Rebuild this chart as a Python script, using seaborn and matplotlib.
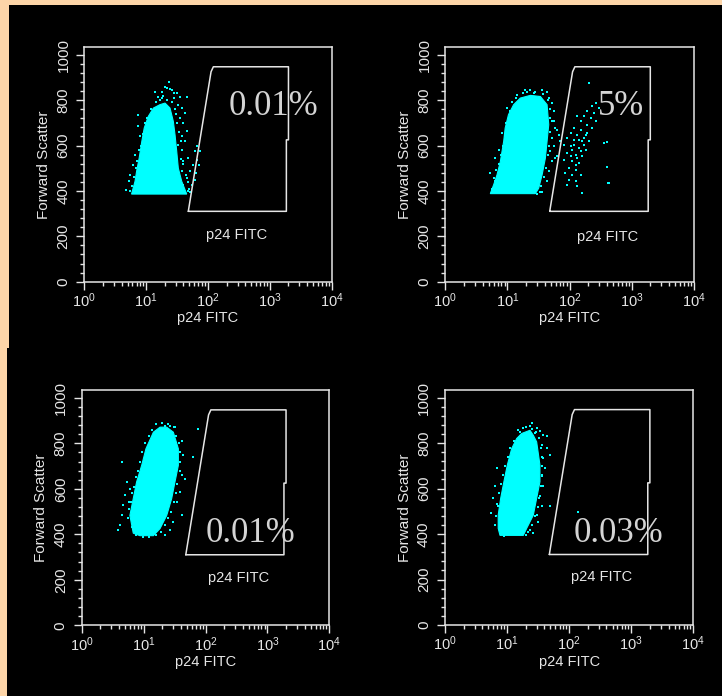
import matplotlib
matplotlib.use("Agg")
import matplotlib.pyplot as plt
import matplotlib.ticker as mticker
from matplotlib.patches import Rectangle
import seaborn as sns
import pandas as pd

# gate drawn in every panel (p24 FITC, forward scatter)
gate_x = [48, 112, 122, 2000, 2000, 1850, 1850, 48]
gate_y = [310, 925, 947, 947, 625, 625, 310, 310]

pct_labels = ["0.01%", "5%", "0.01%", "0.03%"]

# dense part of each cloud (outline)
tl_core_x = [5.8, 6.6, 7.0, 7.7, 8.5, 9.3, 10.8, 13.1, 16.7, 20.2, 24.3, 27.5, 29.3, 31.2, 33.1, 37.6, 45.3]
tl_core_y = [386, 442, 486, 544, 618, 677, 728, 765, 780, 787, 765, 706, 647, 574, 500, 442, 386]
tr_core_x = [5.3, 6.0, 6.8, 7.7, 8.7, 9.2, 10.4, 12.6, 16.1, 23.4, 34.0, 43.5, 46.3, 43.5, 40.9, 36.2, 31.9, 28.2]
tr_core_y = [388, 427, 471, 530, 618, 677, 736, 780, 809, 821, 816, 780, 692, 618, 545, 471, 412, 388]
bl_core_x = [6.8, 6.0, 6.8, 7.7, 9.3, 10.9, 14.4, 18.4, 23.6, 30.2, 36.4, 36.4, 32.1, 28.4, 23.6, 18.4, 14.4, 8.7]
bl_core_y = [405, 483, 557, 630, 703, 776, 849, 871, 871, 849, 776, 703, 630, 557, 483, 425, 394, 394]
br_core_x = [7.2, 7.2, 7.9, 8.9, 10.1, 11.9, 14.3, 17.2, 23.4, 26.5, 30.0, 33.9, 33.9, 30.0, 26.5, 20.7, 18.3, 7.7]
br_core_y = [425, 483, 557, 630, 703, 776, 820, 842, 856, 834, 805, 703, 630, 557, 483, 425, 394, 394]

# sparse events around the clouds
tl_dots_x = [23.4, 21.4, 17.8, 13.9, 15.7, 25.8, 31.1, 28.5, 35.2, 45.2, 33.1, 37.5, 42.5, 35.2, 39.9,
             45.2, 37.5, 42.5, 33.1, 65.5, 61.5, 75.0, 48.1, 66.0, 39.9, 57.9, 72.0, 37.5, 51.2, 64.0,
             45.2, 61.5, 39.9, 54.5, 33.1, 42.5, 7.5, 7.9, 6.6, 6.2, 5.5, 5.2, 4.8, 7.5,
             5.4, 6.0, 6.3, 6.9, 7.2, 7.8, 8.2, 8.8, 9.5, 10.5, 12.0, 14.5, 17.0, 19.0, 22.0,
             26.0, 29.0, 30.0, 32.0, 34.0, 36.0, 38.0, 36.0, 40.0, 44.0, 48.0, 50.0, 52.0, 47.0,
             28.0, 20.0, 24.0, 18.0]
tl_dots_y = [880, 853, 838, 838, 816, 846, 831, 809, 816, 816, 780, 765, 743, 721, 699,
             662, 640, 618, 603, 596, 574, 574, 544, 537, 530, 515, 515, 486, 486, 478,
             456, 449, 427, 427, 405, 390, 684, 640, 559, 515, 471, 442, 405, 736,
             400, 420, 460, 500, 530, 580, 600, 650, 700, 720, 760, 790, 800, 820, 800,
             790, 760, 740, 700, 660, 620, 580, 540, 520, 470, 440, 410, 395, 400,
             830, 860, 850, 810]
tr_dots_x = [19.5, 23.4, 26.5, 36.1, 43.5, 31.9, 46.3, 52.5, 55.8, 52.5, 59.4, 52.5, 55.8, 63.2, 52.5,
             46.3, 43.5, 36.1, 6.4, 5.3, 6.0, 7.2, 8.1, 9.8, 14.3,
             206, 263, 232, 298, 193, 247, 171, 218, 133, 151, 263, 193, 117, 151, 232,
             104, 133, 182, 92, 117, 160, 206, 81, 104, 142, 182, 92, 125, 160, 81,
             110, 142, 97.5, 125, 86, 110, 151, 97.5, 125, 92, 133, 160, 359, 433,
             56, 63, 71, 67, 49, 59, 396, 423, 396,
             117, 151, 133, 171, 125, 104, 193, 142, 110, 171,
             5.6, 6.2, 6.6, 7.2, 7.9, 8.4, 9.0, 9.6, 11.0, 12.0, 14.0, 18.0, 21.0, 28.0, 38.0,
             45.0, 48.0, 49.0, 48.0, 46.0, 45.0, 42.0, 39.0, 35.0, 33.0, 30.0]
tr_dots_y = [846, 846, 831, 846, 838, 816, 809, 787, 750, 706, 677, 633, 596, 552, 530,
             486, 442, 397, 545, 478, 456, 581, 655, 765, 824,
             875, 787, 772, 765, 750, 743, 728, 721, 728, 706, 706, 692, 677, 669, 677,
             655, 647, 647, 633, 625, 618, 618, 603, 596, 589, 581, 567, 559, 552, 537,
             530, 522, 500, 493, 478, 471, 471, 449, 442, 427, 420, 390, 611, 434,
             706, 669, 618, 647, 574, 545, 616, 435, 506,
             603, 574, 545, 633, 515, 552, 655, 625, 581, 603,
             410, 445, 490, 520, 560, 600, 640, 700, 750, 790, 810, 830, 835, 835, 825,
             800, 760, 720, 660, 600, 560, 500, 460, 420, 395, 385]
bl_dots_x = [4.4, 5.3, 5.0, 4.7, 4.4, 4.2, 3.9, 6.0, 5.7, 7.3, 41.2, 43.9, 41.2, 46.6, 38.7,
             34.2, 41.2, 30.2, 26.7, 22.2, 9.9, 76.6, 63.5, 26.7, 32.1, 22.2,
             5.5, 5.8, 6.2, 6.5, 7.0, 7.4, 8.0, 8.6, 9.5, 10.5, 12.0, 13.5, 16.0, 20.0, 25.0,
             31.0, 33.0, 37.0, 38.0, 39.0, 38.0, 35.0, 33.0, 31.0, 28.0, 25.0, 22.0, 19.0, 16.0,
             12.0, 7.5, 6.4]
bl_dots_y = [717, 630, 571, 527, 483, 440, 418, 600, 542, 440, 812, 747, 659, 644, 586,
             542, 483, 454, 418, 396, 388, 864, 739, 878, 871, 878,
             470, 510, 540, 580, 610, 650, 680, 720, 760, 800, 830, 860, 885, 890, 885,
             870, 830, 800, 760, 720, 680, 620, 580, 540, 500, 470, 440, 410, 395,
             388, 395, 430]
br_dots_x = [24.9, 23.4, 30.0, 33.9, 38.4, 43.5, 28.2, 15.2, 18.3, 36.1, 43.5, 49.1, 38.4, 40.8,
             36.1, 38.4, 33.9, 36.1, 30.0, 31.9, 23.4, 26.5, 6.8, 6.4, 6.0, 5.6, 7.2, 49.1, 140,
             6.3, 6.6, 7.0, 7.4, 8.1, 8.6, 9.4, 10.5, 11.2, 12.8, 16.0, 20.0, 25.0, 29.0, 33.0,
             35.0, 36.0, 37.0, 36.0, 35.0, 33.0, 31.0, 28.0, 25.0, 22.0, 20.0, 9.0]
br_dots_y = [888, 874, 866, 852, 837, 829, 844, 859, 866, 793, 778, 749, 734, 690,
             653, 609, 565, 521, 484, 455, 418, 403, 690, 609, 558, 491, 521, 521, 496,
             440, 480, 530, 580, 620, 660, 700, 740, 780, 810, 850, 870, 860, 850, 820,
             780, 740, 700, 660, 610, 560, 520, 480, 440, 410, 395, 392]

panels = [
    (tl_core_x, tl_core_y, tl_dots_x, tl_dots_y, pct_labels[0], (1167, 735), (288, 206)),
    (tr_core_x, tr_core_y, tr_dots_x, tr_dots_y, pct_labels[1], (668, 735), (407, 198)),
    (bl_core_x, bl_core_y, bl_dots_x, bl_dots_y, pct_labels[2], (539, 364), (348, 207)),
    (br_core_x, br_core_y, br_dots_x, br_dots_y, pct_labels[3], (622, 363), (333, 213)),
]
# axes rectangles in figure fractions
boxes = [
    [0.1168, 0.5953, 0.3426, 0.3368],
    [0.6168, 0.5953, 0.3440, 0.3368],
    [0.1132, 0.1016, 0.3429, 0.3376],
    [0.6163, 0.1020, 0.3439, 0.3376],
]

sns.set_style("dark")
plt.rcParams["font.family"] = ["Liberation Sans", "DejaVu Sans"]
plt.rcParams["mathtext.default"] = "regular"

fg = "#E6E6E6"
cyan = "#00FFFF"

fig = plt.figure(figsize=(7.22, 6.96), dpi=100)
fig.patch.set_facecolor("#FDD5A8")
fig.add_artist(Rectangle((9 / 722, 0.5), 1, 0.5 - 5 / 696, transform=fig.transFigure,
                         facecolor="black", edgecolor="none", zorder=0))
fig.add_artist(Rectangle((7 / 722, 0), 1, 0.5, transform=fig.transFigure,
                         facecolor="black", edgecolor="none", zorder=0))

for box, (cx, cy, dx, dy, pct, pct_pos, glab_pos) in zip(boxes, panels):
    ax = fig.add_axes(box)
    ax.set_facecolor("black")
    ax.set_xscale("log")
    ax.set_xlim(1, 1e4)
    ax.set_ylim(0, 1033)

    ax.fill(cx, cy, color=cyan, lw=0.8, zorder=2)
    dots = pd.DataFrame({"fitc": dx, "fsc": dy})
    sns.scatterplot(data=dots, x="fitc", y="fsc", ax=ax, color=cyan, marker="s",
                    s=4, linewidth=0, zorder=3)

    ax.plot(gate_x, gate_y, color=fg, lw=1.1, zorder=4)
    ax.text(glab_pos[0], glab_pos[1], "p24 FITC", color=fg, fontsize=10.5,
            ha="center", va="center")
    ax.text(pct_pos[0], pct_pos[1], pct, color="#D4D4D4", fontsize=25,
            family="Liberation Serif", ha="center", va="baseline", zorder=5)

    for sp in ax.spines.values():
        sp.set_visible(True)
        sp.set_color(fg)
        sp.set_linewidth(1.1)
    ax.grid(False)

    ax.yaxis.set_major_locator(mticker.FixedLocator([0, 200, 400, 600, 800, 1000]))
    ax.yaxis.set_minor_locator(mticker.AutoMinorLocator(5))
    ax.xaxis.set_major_locator(mticker.LogLocator(base=10, numticks=10))
    ax.xaxis.set_minor_locator(mticker.LogLocator(base=10, subs=range(2, 10), numticks=10))
    ax.tick_params(which="both", direction="out", colors=fg, width=1,
                   bottom=True, left=True, top=False, right=False)
    ax.tick_params(which="major", length=6, labelsize=10.5)
    ax.tick_params(axis="y", which="major", pad=4, labelsize=11)
    ax.tick_params(which="minor", length=3)
    ax.tick_params(axis="x", which="major", pad=1)
    plt.setp(ax.get_yticklabels(), rotation=90, va="center")

    ax.set_xlabel("p24 FITC", color=fg, fontsize=10.5, labelpad=1)
    ax.set_ylabel("Forward Scatter", color=fg, fontsize=11, labelpad=4)

fig.savefig("out.png", dpi=100, facecolor=fig.get_facecolor())
